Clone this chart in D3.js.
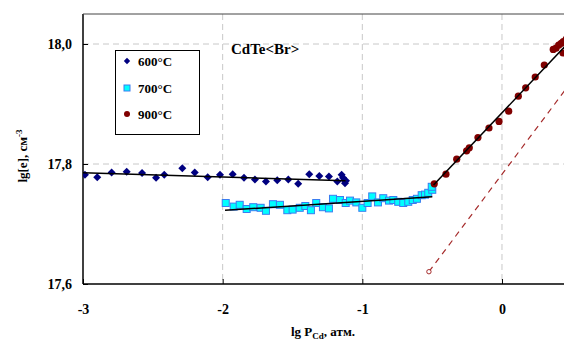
<!DOCTYPE html>
<html>
<head>
<meta charset="utf-8">
<script src="https://cdn.jsdelivr.net/npm/d3@7"></script>
<style>
  body { margin: 0; background: #fff; }
  text { font-family: "Liberation Serif", "Times New Roman", serif; font-weight: bold; }
</style>
</head>
<body>
<div id="chart"></div>
<script>
// data
const x600 = [-2.986, -2.898, -2.795, -2.687, -2.577, -2.477, -2.418, -2.289, -2.200, -2.107, -2.019, -1.928, -1.847, -1.769, -1.690, -1.609, -1.530, -1.459, -1.380, -1.308, -1.239, -1.179, -1.148, -1.138, -1.129, -1.124, -1.117];
const y600 = [17.782, 17.778, 17.786, 17.787, 17.785, 17.777, 17.782, 17.793, 17.786, 17.778, 17.782, 17.783, 17.777, 17.774, 17.771, 17.773, 17.774, 17.767, 17.783, 17.780, 17.779, 17.771, 17.782, 17.777, 17.773, 17.768, 17.772];

const x700 = [-1.978, -1.921, -1.878, -1.828, -1.781, -1.728, -1.690, -1.640, -1.590, -1.537, -1.499, -1.448, -1.408, -1.368, -1.330, -1.282, -1.239, -1.210, -1.160, -1.119, -1.088, -1.043, -1.000, -0.962, -0.929, -0.888, -0.850, -0.809, -0.778, -0.743, -0.707, -0.671, -0.639, -0.609, -0.575, -0.551, -0.528, -0.499, -0.503];
const y700 = [17.735, 17.729, 17.732, 17.725, 17.728, 17.727, 17.722, 17.733, 17.732, 17.723, 17.724, 17.727, 17.730, 17.723, 17.735, 17.728, 17.726, 17.742, 17.740, 17.735, 17.739, 17.736, 17.727, 17.735, 17.746, 17.736, 17.743, 17.739, 17.740, 17.737, 17.735, 17.737, 17.740, 17.742, 17.748, 17.749, 17.752, 17.757, 17.762];

const x900 = [-0.485, -0.401, -0.324, -0.253, -0.234, -0.172, -0.093, -0.021, 0.048, 0.117, 0.170, 0.238, 0.303, 0.367, 0.387, 0.406, 0.424, 0.437, 0.439, 0.46];
const y900 = [17.767, 17.783, 17.808, 17.822, 17.827, 17.844, 17.860, 17.871, 17.888, 17.913, 17.927, 17.945, 17.965, 17.991, 17.993, 17.998, 18.001, 17.985, 18.004, 18.008];

// fitted lines [x0, y0, x1, y1]
const fit600 = [-3.0, 17.7855, -1.12, 17.772];
const fit700 = [-1.983, 17.7228, -0.499, 17.7455];
const fit900 = [-0.49, 17.765, 0.5, 18.008];
const dashLine = [-0.523, 17.6205, 0.5, 17.938];

const xTicks = [-3, -2, -1, 0];
const yTicks = [17.6, 17.8, 18.0];
const series = ["600°C", "700°C", "900°C"];

const W = 564, H = 341;
const x = d3.scaleLinear().domain([-3, 0.5]).range([83, 571.8]);
const y = d3.scaleLinear().domain([17.6, 18.05]).range([284, 14]);

const svg = d3.select("#chart").append("svg")
  .attr("width", W).attr("height", H);

svg.append("clipPath").attr("id", "clip")
  .append("rect").attr("x", 83).attr("y", 14).attr("width", W - 83).attr("height", 270);

// grid
const grid = svg.append("g").attr("stroke", "#c8c8c8").attr("stroke-dasharray", "6,4").attr("stroke-width", 1);
grid.selectAll(".gx").data(xTicks.slice(1)).join("line")
  .attr("x1", d => x(d)).attr("x2", d => x(d)).attr("y1", y(18.05)).attr("y2", y(17.6));
grid.selectAll(".gy").data(yTicks.slice(1)).join("line")
  .attr("x1", x(-3)).attr("x2", W).attr("y1", d => y(d)).attr("y2", d => y(d));

// axes
const xAxis = d3.axisBottom(x).tickValues(xTicks).tickSize(-5).tickFormat(d => String(d));
const yAxis = d3.axisLeft(y).tickValues(yTicks).tickSize(-5).tickFormat(d => d.toFixed(1).replace(".", ","));

const gx = svg.append("g").attr("transform", `translate(0,${y(17.6)})`).call(xAxis);
gx.select(".domain").remove();
gx.selectAll("line").attr("stroke", "#000");
gx.selectAll("text").attr("dy", "1.9em").attr("font-size", 14).attr("fill", "#000")
  .style("font-family", "Liberation Serif").style("font-weight", "bold");

const gy = svg.append("g").attr("transform", `translate(${x(-3)},0)`).call(yAxis);
gy.select(".domain").remove();
gy.selectAll("line").attr("stroke", "#000");
gy.selectAll("text").attr("x", -11).attr("font-size", 14).attr("fill", "#000")
  .style("font-family", "Liberation Serif").style("font-weight", "bold");

// frame
svg.append("line").attr("x1", x(-3)).attr("x2", W).attr("y1", y(17.6)).attr("y2", y(17.6)).attr("stroke", "#000").attr("stroke-width", 1.5);
svg.append("line").attr("x1", x(-3)).attr("x2", x(-3)).attr("y1", y(17.6)).attr("y2", y(18.05)).attr("stroke", "#000").attr("stroke-width", 1.5);
svg.append("line").attr("x1", x(-3)).attr("x2", W).attr("y1", y(18.05)).attr("y2", y(18.05)).attr("stroke", "#444").attr("stroke-width", 1);

const plot = svg.append("g").attr("clip-path", "url(#clip)");

// dashed theoretical line
plot.append("line")
  .attr("x1", x(dashLine[0])).attr("y1", y(dashLine[1]))
  .attr("x2", x(dashLine[2])).attr("y2", y(dashLine[3]))
  .attr("stroke", "#a52a2a").attr("stroke-width", 1.2).attr("stroke-dasharray", "6,5");
plot.append("circle").attr("cx", x(dashLine[0])).attr("cy", y(dashLine[1])).attr("r", 2.2)
  .attr("fill", "#fff").attr("stroke", "#a52a2a").attr("stroke-width", 1);

// points
const diamond = "M0,-4L4,0L0,4L-4,0Z";
plot.selectAll(".p600").data(d3.zip(x600, y600)).join("path")
  .attr("d", diamond).attr("transform", d => `translate(${x(d[0])},${y(d[1])})`)
  .attr("fill", "#000080");

plot.selectAll(".p700").data(d3.zip(x700, y700)).join("rect")
  .attr("x", d => x(d[0]) - 3.5).attr("y", d => y(d[1]) - 3.5)
  .attr("width", 7).attr("height", 7)
  .attr("fill", "#00ffff").attr("stroke", "#3a7cf0").attr("stroke-width", 1);

plot.selectAll(".p900").data(d3.zip(x900, y900)).join("circle")
  .attr("cx", d => x(d[0])).attr("cy", d => y(d[1])).attr("r", 3.6)
  .attr("fill", "#800000");

// fit lines
[fit600, fit700, fit900].forEach(f => {
  plot.append("line")
    .attr("x1", x(f[0])).attr("y1", y(f[1])).attr("x2", x(f[2])).attr("y2", y(f[3]))
    .attr("stroke", "#000").attr("stroke-width", 1.5);
});

// title inside plot
svg.append("text").attr("x", 231).attr("y", 54).attr("font-size", 15).text("CdTe<Br>");

// legend
const lg = svg.append("g");
lg.append("rect").attr("x", 115.5).attr("y", 50.5).attr("width", 84).attr("height", 84)
  .attr("fill", "#fff").attr("stroke", "#000").attr("stroke-width", 1);
const ly = [61, 88, 114];
lg.append("path").attr("d", "M0,-3.2L3.2,0L0,3.2L-3.2,0Z")
  .attr("transform", `translate(127,${ly[0]})`).attr("fill", "#000080");
lg.append("rect").attr("x", 124).attr("y", ly[1] - 3).attr("width", 6).attr("height", 6)
  .attr("fill", "#00ffff").attr("stroke", "#3a7cf0");
lg.append("circle").attr("cx", 127).attr("cy", ly[2]).attr("r", 3).attr("fill", "#800000");
lg.selectAll(".lt").data(series).join("text")
  .attr("x", 138).attr("y", (d, i) => ly[i] + 4.5).attr("font-size", 13).text(d => d);

// axis titles
const xt = svg.append("text").attr("x", 323).attr("y", 336).attr("text-anchor", "middle").attr("font-size", 13);
xt.append("tspan").text("lg P");
xt.append("tspan").attr("font-size", 9).attr("dy", 3).text("Cd");
xt.append("tspan").attr("dy", -3).text(", атм.");

const yt = svg.append("text").attr("transform", "translate(27,156) rotate(-90)")
  .attr("text-anchor", "middle").attr("font-size", 13);
yt.append("tspan").text("lg[e], см");
yt.append("tspan").attr("font-size", 9).attr("dy", -5).text("-3");
</script>
</body>
</html>
